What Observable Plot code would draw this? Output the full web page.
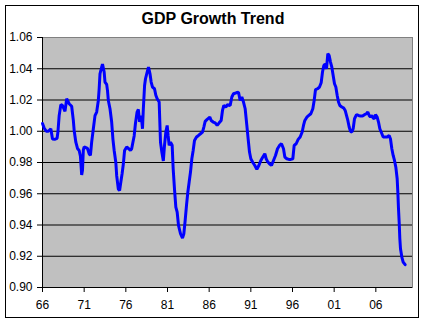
<!DOCTYPE html>
<html>
<head>
<meta charset="utf-8">
<script src="https://cdn.jsdelivr.net/npm/d3@7"></script>
<script src="https://cdn.jsdelivr.net/npm/@observablehq/plot@0.6"></script>
<style>
  body { margin: 0; background: white; }
  #wrap { position: relative; width: 426px; height: 323px; background: white; overflow: hidden; }
  #border { position: absolute; left: 5px; top: 5px; width: 412px; height: 311px; border: 1px solid black; pointer-events: none; }
  #title { position: absolute; left: 0; top: 9px; width: 426px; text-align: center; font: bold 16px "Liberation Sans", Arial, sans-serif; line-height: 20px; color: black; }
</style>
</head>
<body>
<div id="wrap">
  <div id="title">GDP Growth Trend</div>
  <div id="border"></div>
</div>
<script>
const years = [
  1966.0,1966.2,1966.45,1966.7,1967.0,1967.2,1967.45,1967.75,1967.85,1968.0,
  1968.2,1968.4,1968.6,1968.7,1968.9,1969.2,1969.5,1969.7,1969.8,1970.0,
  1970.2,1970.4,1970.55,1970.7,1970.8,1970.9,1971.0,1971.4,1971.6,1971.75,
  1971.9,1972.1,1972.3,1972.5,1972.7,1972.8,1972.9,1973.1,1973.2,1973.4,
  1973.5,1973.7,1973.8,1973.9,1974.1,1974.3,1974.45,1974.6,1974.8,1974.9,
  1975.1,1975.25,1975.4,1975.55,1975.7,1975.85,1976.1,1976.35,1976.55,1976.7,
  1976.85,1977.0,1977.15,1977.35,1977.5,1977.65,1977.85,1978.0,1978.1,1978.25,
  1978.36,1978.56,1978.72,1978.9,1979.04,1979.2,1979.44,1979.6,1979.76,1980.0,
  1980.16,1980.32,1980.5,1980.64,1980.8,1980.96,1981.08,1981.2,1981.36,1981.56,
  1981.68,1981.84,1982.0,1982.16,1982.32,1982.56,1982.8,1982.96,1983.1,1983.28,
  1983.44,1983.6,1983.76,1983.92,1984.08,1984.24,1984.48,1984.72,1984.96,1985.2,
  1985.36,1985.52,1985.76,1986.08,1986.24,1986.48,1986.72,1986.96,1987.2,1987.44,
  1987.6,1987.76,1988.0,1988.2,1988.52,1988.72,1988.92,1989.24,1989.52,1989.72,
  1989.92,1990.12,1990.32,1990.52,1990.68,1990.84,1991.0,1991.24,1991.48,1991.72,
  1991.96,1992.2,1992.44,1992.68,1992.84,1993.0,1993.24,1993.48,1993.72,1993.96,
  1994.2,1994.44,1994.68,1994.92,1995.08,1995.32,1995.56,1995.8,1996.04,1996.2,
  1996.44,1996.68,1996.92,1997.16,1997.32,1997.48,1997.72,1997.96,1998.2,1998.44,
  1998.6,1998.76,1999.0,1999.24,1999.44,1999.6,1999.76,1999.92,2000.08,2000.24,
  2000.4,2000.56,2000.72,2000.88,2001.04,2001.2,2001.36,2001.52,2001.68,2001.92,
  2002.16,2002.32,2002.48,2002.64,2002.8,2002.96,2003.12,2003.28,2003.44,2003.68,
  2003.92,2004.16,2004.4,2004.64,2004.88,2005.04,2005.2,2005.36,2005.52,2005.68,
  2005.84,2005.96,2006.16,2006.32,2006.48,2006.64,2006.88,2007.12,2007.36,2007.6,
  2007.76,2007.92,2008.08,2008.24,2008.4,2008.56,2008.64,2008.72,2008.8,2008.88,
  2008.96,2009.12,2009.28,2009.52
];
const values = [
  1.005,1.002,1.000,1.000,1.0016,0.995,0.9948,0.9955,0.9995,1.010,
  1.017,1.0165,1.014,1.0127,1.0208,1.0176,1.016,1.007,1.0005,0.993,
  0.989,0.9877,0.984,0.972,0.975,0.988,0.990,0.989,0.9856,0.9845,
  0.993,1.0016,1.010,1.0123,1.0197,1.0272,1.0368,1.041,1.043,1.0379,
  1.0315,1.030,1.026,1.0197,1.0144,1.0059,0.995,0.9877,0.980,0.9717,
  0.963,0.962,0.9675,0.9728,0.979,0.9877,0.9899,0.9888,0.9877,0.9888,
  0.993,0.997,1.0048,1.0123,1.014,1.006,1.010,1.0016,1.0144,1.0293,
  1.0336,1.0379,1.041,1.0368,1.0315,1.0283,1.0272,1.023,1.0208,1.0187,
  0.993,0.9867,0.981,0.991,0.9995,1.0037,0.997,0.991,0.993,0.991,
  0.976,0.963,0.9515,0.9483,0.9398,0.9344,0.9316,0.9344,0.9419,0.9525,
  0.961,0.9675,0.9739,0.9824,0.9877,0.9941,0.9963,0.9973,0.9984,0.9995,
  1.0027,1.0063,1.0076,1.009,1.0069,1.0059,1.0054,1.0037,1.0054,1.0069,
  1.0133,1.0165,1.0155,1.017,1.0165,1.0219,1.024,1.0246,1.025,1.0197,
  1.0219,1.0187,1.0144,1.0037,0.995,0.9867,0.9824,0.980,0.9781,0.9756,
  0.9781,0.9813,0.9835,0.9856,0.9824,0.9807,0.9792,0.9781,0.9813,0.9845,
  0.9888,0.9909,0.992,0.9888,0.9835,0.9824,0.982,0.982,0.9824,0.9909,
  0.992,0.9948,0.9963,0.9995,1.0037,1.0069,1.009,1.0101,1.0112,1.0144,
  1.0197,1.0266,1.0272,1.0283,1.031,1.0379,1.0421,1.043,1.040,1.0496,
  1.0485,1.0443,1.041,1.0357,1.0304,1.0283,1.023,1.0187,1.0165,1.0155,
  1.0148,1.0133,1.0101,1.0069,1.0027,0.9999,0.9995,1.0016,1.008,1.0106,
  1.0101,1.0097,1.0097,1.0106,1.0112,1.0123,1.0101,1.009,1.0101,1.0084,
  1.008,1.0106,1.009,1.0059,1.0016,0.9995,0.9963,0.9963,0.9963,0.9973,
  0.995,0.9888,0.9845,0.9813,0.977,0.9696,0.9611,0.9504,0.9419,0.9312,
  0.9248,0.9195,0.9163,0.9146
];
const xTicks = [1966,1971,1976,1981,1986,1991,1996,2001,2006];
const yTicks = [0.90,0.92,0.94,0.96,0.98,1.00,1.02,1.04,1.06];
const gridValues = [0.92,0.94,0.96,0.98,1.00,1.02,1.04];
const title = "GDP Growth Trend";

const data = years.map((y, i) => ({year: y, value: values[i]}));

const chart = Plot.plot({
  width: 426,
  height: 323,
  marginLeft: 42,
  marginRight: 14,
  marginTop: 37,
  marginBottom: 36,
  style: {fontFamily: "'Liberation Sans', Arial, sans-serif", fontSize: "12px", background: "transparent", color: "black"},
  x: {domain: [1966, 2010.4], label: null},
  y: {domain: [0.90, 1.06], label: null},
  marks: [
    Plot.frame({fill: "#c0c0c0", stroke: "#808080"}),
    Plot.ruleY(gridValues, {stroke: "black", strokeWidth: 1}),
    Plot.ruleY([0.90], {stroke: "black"}),
    Plot.ruleX([1966], {stroke: "black"}),
    Plot.line(data, {x: "year", y: "value", stroke: "#0000ff", strokeWidth: 3, strokeLinejoin: "miter"}),
    Plot.axisY(yTicks, {tickSize: 5, tickPadding: 5, tickFormat: d => d.toFixed(2), stroke: "black", label: null}),
    Plot.axisX(xTicks, {tickSize: 5, tickPadding: 8, tickFormat: d => String(d % 100).padStart(2, "0"), stroke: "black", label: null})
  ]
});
chart.style.position = "absolute";
chart.style.left = "0px";
chart.style.top = "0px";
const wrap = document.getElementById("wrap");
wrap.insertBefore(chart, wrap.firstChild);
</script>
</body>
</html>
